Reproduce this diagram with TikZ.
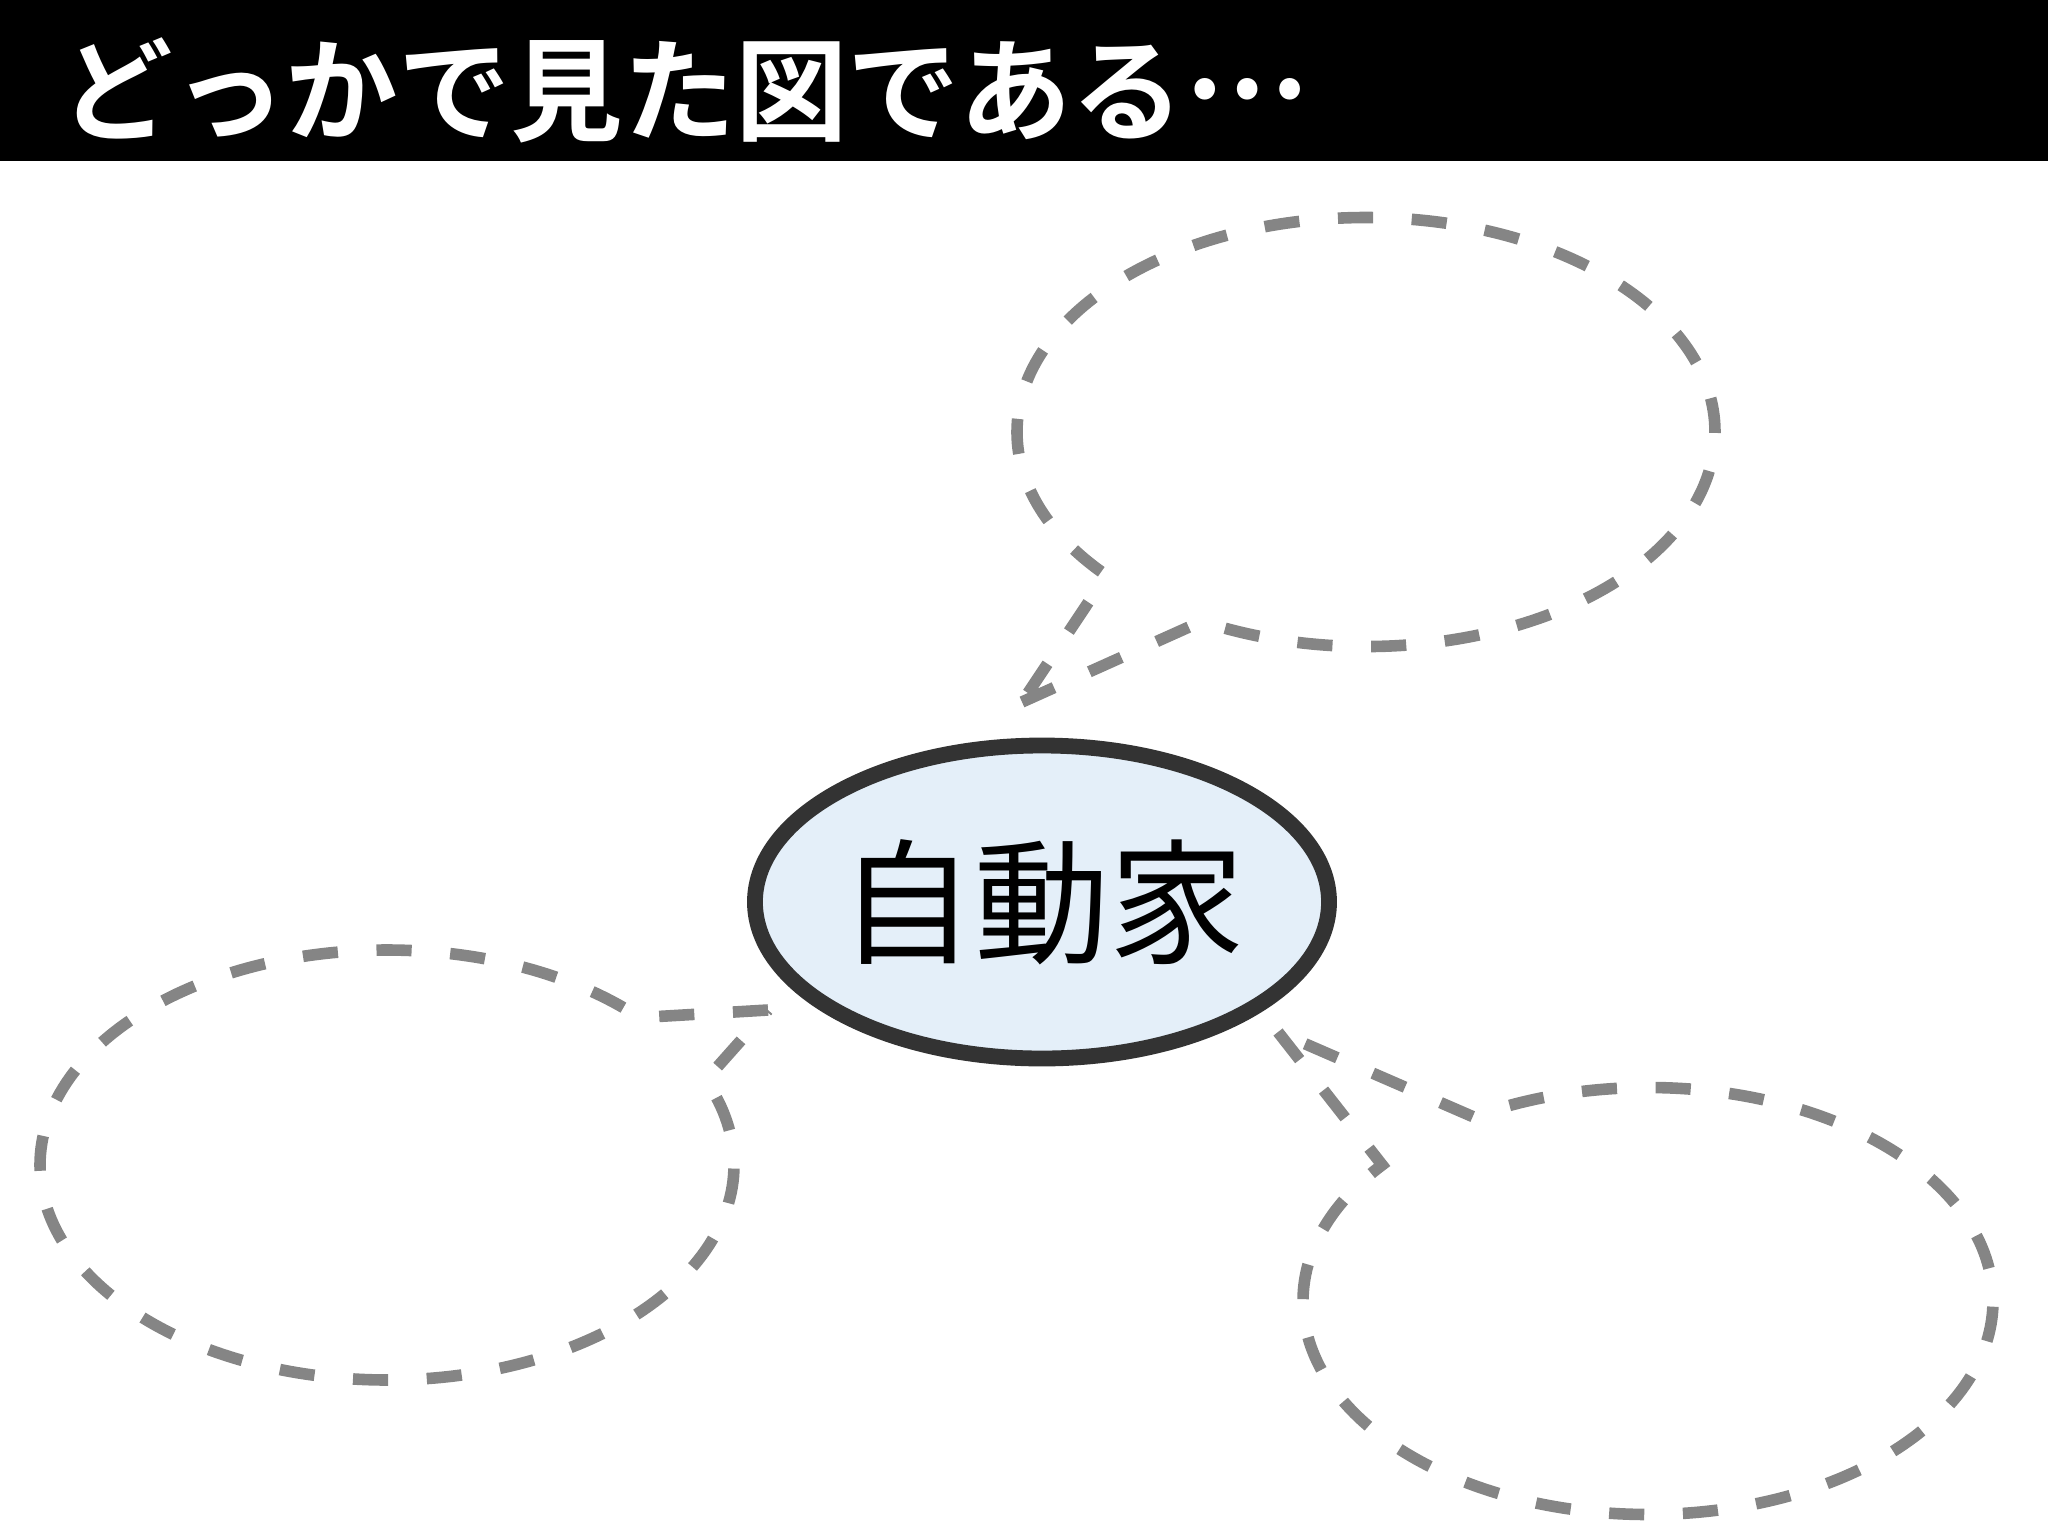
\documentclass[tikz,border=0pt]{standalone}
\usepackage{fontspec}
\newfontfamily\jpfont{Noto Sans CJK JP}
\newfontfamily\jpbold{Noto Sans CJK JP Bold}
\usetikzlibrary{shapes.geometric,shapes.callouts}

\definecolor{dashgray}{HTML}{858585}
\definecolor{coreline}{HTML}{333333}
\definecolor{corefill}{HTML}{E4EFF9}

\begin{document}
\begin{tikzpicture}
                \tikzstyle{bubble}=[ellipse callout, draw=dashgray, line width=3.3pt, dash pattern=on 10pt off 11pt, inner sep=0pt, callout pointer arc=20]
                \tikzstyle{core}=[ellipse, draw=coreline, fill=corefill, line width=4.5pt, inner sep=0pt, minimum width=5.74cm, minimum height=3.13cm, font=\jpfont\fontsize{38.5}{38.5}\selectfont]

                \useasboundingbox (0,0) rectangle (20.48,-15.35);
                \fill[black] (0,0) rectangle (20.48,-1.61);
                \node[anchor=west, inner sep=0pt, text=white, font=\jpbold\fontsize{32}{32}\selectfont] (title) at (0.60,-0.90) {どっかで見た図である\raisebox{0.3em}{…}};

                \coordinate (pa) at (10.22,-7.02);
                \coordinate (pb) at (7.68,-10.10);
                \coordinate (pc) at (12.78,-10.32);

                \node[bubble, minimum width=6.98cm, minimum height=4.29cm, callout absolute pointer={(pa)}] (a) at (13.66,-4.32) {};
                \node[bubble, minimum width=6.94cm, minimum height=4.30cm, callout absolute pointer={(pb)}] (b) at (3.87,-11.65) {};
                \node[bubble, minimum width=6.90cm, minimum height=4.27cm, callout absolute pointer={(pc)}] (c) at (16.48,-13.01) {};

                \node[core] (k) at (10.42,-9.02) {自動家};
            \end{tikzpicture}
\end{document}
